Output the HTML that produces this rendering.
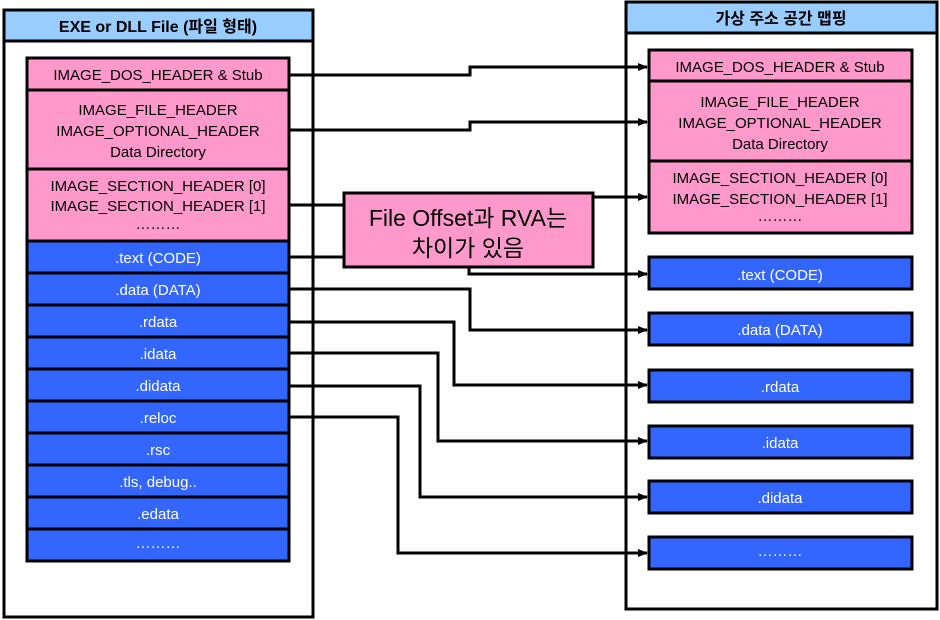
<!DOCTYPE html>
<html><head><meta charset="utf-8"><style>
html,body{margin:0;padding:0;background:#fff}
svg{display:block}
text{font-family:"Liberation Sans","Noto Sans CJK KR",sans-serif;font-size:15px;text-anchor:middle;fill:#000}
.w{fill:#fff}
.b{font-weight:bold}
</style></head><body>
<svg width="940" height="620" viewBox="0 0 940 620" xmlns="http://www.w3.org/2000/svg">
<defs><marker id="a" markerWidth="10" markerHeight="8" refX="9" refY="4" orient="auto" markerUnits="userSpaceOnUse"><path d="M0,0 L10,4 L0,8z" fill="#000"/></marker></defs>
<!-- left outer -->
<rect x="4" y="10" width="309" height="607" fill="#fff" stroke="#000" stroke-width="3"/>
<rect x="4" y="10" width="309" height="31" fill="#99ccff" stroke="#000" stroke-width="3"/>
<text x="158" y="32" class="b" style="font-size:16px">EXE or DLL File (파일 형태)</text>
<g stroke="#000" stroke-width="3">
<rect x="27" y="58" width="262" height="32" fill="#ff99cc"/>
<rect x="27" y="90" width="262" height="79" fill="#ff99cc"/>
<rect x="27" y="169" width="262" height="72" fill="#ff99cc"/>
<rect x="27" y="241" width="262" height="32" fill="#3366ff"/>
<rect x="27" y="273" width="262" height="32" fill="#3366ff"/>
<rect x="27" y="305" width="262" height="32" fill="#3366ff"/>
<rect x="27" y="337" width="262" height="32" fill="#3366ff"/>
<rect x="27" y="369" width="262" height="32" fill="#3366ff"/>
<rect x="27" y="401" width="262" height="32" fill="#3366ff"/>
<rect x="27" y="433" width="262" height="32" fill="#3366ff"/>
<rect x="27" y="465" width="262" height="32" fill="#3366ff"/>
<rect x="27" y="497" width="262" height="32" fill="#3366ff"/>
<rect x="27" y="529" width="262" height="32" fill="#3366ff"/>
</g>
<text x="158" y="80">IMAGE_DOS_HEADER &amp; Stub</text>
<text x="158" y="115">IMAGE_FILE_HEADER</text>
<text x="158" y="136">IMAGE_OPTIONAL_HEADER</text>
<text x="158" y="157">Data Directory</text>
<text x="158" y="191">IMAGE_SECTION_HEADER [0]</text>
<text x="158" y="211">IMAGE_SECTION_HEADER [1]</text>
<text x="158" y="229">………</text>
<text x="158" y="263" class="w">.text (CODE)</text>
<text x="158" y="295" class="w">.data (DATA)</text>
<text x="158" y="327" class="w">.rdata</text>
<text x="158" y="359" class="w">.idata</text>
<text x="158" y="391" class="w">.didata</text>
<text x="158" y="423" class="w">.reloc</text>
<text x="158" y="455" class="w">.rsc</text>
<text x="158" y="487" class="w">.tls, debug..</text>
<text x="158" y="519" class="w">.edata</text>
<text x="158" y="548" class="w">………</text>
<!-- right outer -->
<rect x="626" y="2" width="311" height="607" fill="#fff" stroke="#000" stroke-width="3"/>
<rect x="626" y="2" width="311" height="31" fill="#99ccff" stroke="#000" stroke-width="3"/>
<text x="781" y="24" class="b" style="font-size:16px">가상 주소 공간 맵핑</text>
<g stroke="#000" stroke-width="3">
<rect x="649" y="50" width="263" height="31" fill="#ff99cc"/>
<rect x="649" y="81" width="263" height="80" fill="#ff99cc"/>
<rect x="649" y="161" width="263" height="72" fill="#ff99cc"/>
<rect x="649" y="257" width="263" height="32" fill="#3366ff"/>
<rect x="649" y="313" width="263" height="32" fill="#3366ff"/>
<rect x="649" y="370" width="263" height="32" fill="#3366ff"/>
<rect x="649" y="426" width="263" height="32" fill="#3366ff"/>
<rect x="649" y="481" width="263" height="32" fill="#3366ff"/>
<rect x="649" y="537" width="263" height="32" fill="#3366ff"/>
</g>
<text x="780" y="72">IMAGE_DOS_HEADER &amp; Stub</text>
<text x="780" y="107">IMAGE_FILE_HEADER</text>
<text x="780" y="128">IMAGE_OPTIONAL_HEADER</text>
<text x="780" y="149">Data Directory</text>
<text x="780" y="183">IMAGE_SECTION_HEADER [0]</text>
<text x="780" y="204">IMAGE_SECTION_HEADER [1]</text>
<text x="780" y="221">………</text>
<text x="780" y="280" class="w">.text (CODE)</text>
<text x="780" y="335" class="w">.data (DATA)</text>
<text x="780" y="392" class="w">.rdata</text>
<text x="780" y="448" class="w">.idata</text>
<text x="780" y="503" class="w">.didata</text>
<text x="780" y="556" class="w">………</text>
<!-- connectors -->
<g fill="none" stroke="#000" stroke-width="3">
<polyline points="289,75 470,75 470,67 647,67" marker-end="url(#a)"/>
<polyline points="289,130 470,130 470,122 647,122" marker-end="url(#a)"/>
<polyline points="289,205 344,205"/>
<polyline points="593,197 647,197" marker-end="url(#a)"/>
<polyline points="289,257 344,257"/>
<polyline points="469,267 469,274 647,274" marker-end="url(#a)"/>
<polyline points="289,289 470,289 470,330 647,330" marker-end="url(#a)"/>
<polyline points="289,322 454,322 454,385 647,385" marker-end="url(#a)"/>
<polyline points="289,353 438,353 438,441 647,441" marker-end="url(#a)"/>
<polyline points="289,386 420,386 420,497 647,497" marker-end="url(#a)"/>
<polyline points="289,417 398,417 398,553 647,553" marker-end="url(#a)"/>
</g>
<rect x="344" y="193" width="249" height="74" fill="#ff99cc" stroke="#000" stroke-width="3"/>
<text x="468" y="226" style="font-size:23px">File Offset과 RVA는</text>
<text x="468" y="256" style="font-size:23px">차이가 있음</text>
</svg>
</body></html>
